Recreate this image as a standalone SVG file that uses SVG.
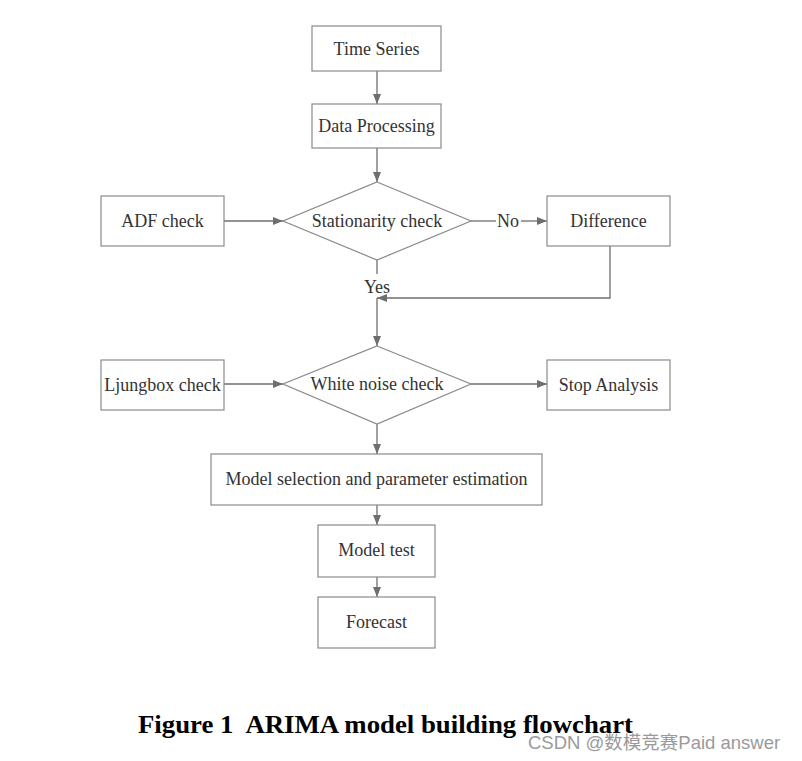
<svg xmlns="http://www.w3.org/2000/svg" width="802" height="761" viewBox="0 0 802 761">
<defs>
<marker id="ah" markerWidth="10" markerHeight="8" refX="10" refY="4" orient="auto" markerUnits="userSpaceOnUse">
<path d="M0,0 L10,4 L0,8 z" fill="#6e6e6e"/>
</marker>
</defs>
<style>
.box{fill:#fff;stroke:#8a8a8a;stroke-width:1.2}
.t{font-family:"Liberation Serif","Times New Roman",serif;font-size:18px;fill:#333;text-anchor:middle;dominant-baseline:central}
.c{fill:none;stroke:#6e6e6e;stroke-width:1.3}
</style>
<rect width="802" height="761" fill="#fff"/>
<g id="connectors">
<line class="c" x1="377" y1="71" x2="377" y2="104" marker-end="url(#ah)"/>
<line class="c" x1="377" y1="148" x2="377" y2="182" marker-end="url(#ah)"/>
<line class="c" x1="224" y1="221" x2="283" y2="221" marker-end="url(#ah)"/>
<line class="c" x1="471" y1="221" x2="496" y2="221"/>
<line class="c" x1="521" y1="221" x2="547" y2="221" marker-end="url(#ah)"/>
<line class="c" x1="377" y1="260" x2="377" y2="274"/>
<polyline class="c" points="610,246 610,298 377,298" marker-end="url(#ah)"/>
<line class="c" x1="377" y1="298" x2="377" y2="346" marker-end="url(#ah)"/>
<line class="c" x1="224" y1="384" x2="283" y2="384" marker-end="url(#ah)"/>
<line class="c" x1="471" y1="384" x2="547" y2="384" marker-end="url(#ah)"/>
<line class="c" x1="377" y1="424" x2="377" y2="454" marker-end="url(#ah)"/>
<line class="c" x1="377" y1="505" x2="377" y2="525" marker-end="url(#ah)"/>
<line class="c" x1="377" y1="577" x2="377" y2="597" marker-end="url(#ah)"/>
<text class="t" x="508" y="221">No</text>
<text class="t" x="377" y="287">Yes</text>
</g>
<g id="time-series"><rect class="box" x="312" y="26" width="129" height="45"/><text class="t" x="376.5" y="48.5">Time Series</text></g>
<g id="data-processing"><rect class="box" x="312" y="104" width="129" height="44"/><text class="t" x="376.5" y="126">Data Processing</text></g>
<g id="adf-check"><rect class="box" x="101" y="196" width="123" height="50"/><text class="t" x="162.5" y="221">ADF check</text></g>
<g id="stationarity-check"><polygon class="box" points="377,182 471,221 377,260 283,221"/><text class="t" x="377" y="221">Stationarity check</text></g>
<g id="difference"><rect class="box" x="547" y="196" width="123" height="50"/><text class="t" x="608.5" y="221">Difference</text></g>
<g id="ljungbox-check"><rect class="box" x="101" y="360" width="123" height="50"/><text class="t" x="162.5" y="385">Ljungbox check</text></g>
<g id="white-noise-check"><polygon class="box" points="377,346 471,384 377,424 283,384"/><text class="t" x="377" y="384">White noise check</text></g>
<g id="stop-analysis"><rect class="box" x="547" y="360" width="123" height="50"/><text class="t" x="608.5" y="385">Stop Analysis</text></g>
<g id="model-selection"><rect class="box" x="211" y="454" width="331" height="51"/><text class="t" x="376.5" y="479">Model selection and parameter estimation</text></g>
<g id="model-test"><rect class="box" x="318" y="525" width="117" height="52"/><text class="t" x="376.5" y="550">Model test</text></g>
<g id="forecast"><rect class="box" x="318" y="597" width="117" height="51"/><text class="t" x="376.5" y="622">Forecast</text></g>
<text x="138" y="733" xml:space="preserve" textLength="495" lengthAdjust="spacingAndGlyphs" font-family="'Liberation Serif','Times New Roman',serif" font-weight="bold" font-size="26" fill="#000">Figure 1  ARIMA model building flowchart</text>
<text x="528" y="749" font-family="'Liberation Sans',Arial,'Noto Sans CJK SC',sans-serif" font-size="18.5" fill="#9a9a9a">CSDN @数模竞赛Paid answer</text>
</svg>
